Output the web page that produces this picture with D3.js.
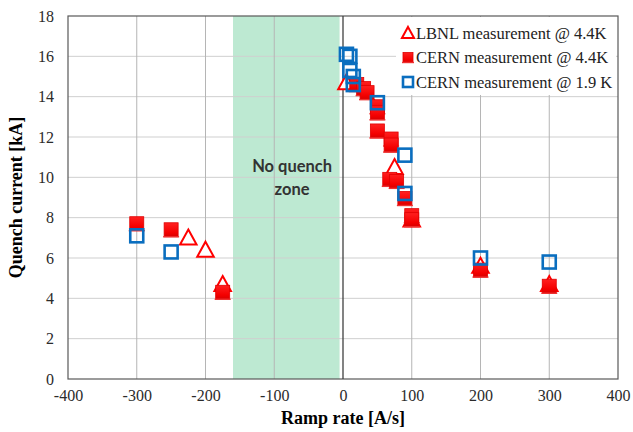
<!DOCTYPE html>
<html>
<head>
<meta charset="utf-8">
<script src="https://cdn.jsdelivr.net/npm/d3@7/dist/d3.min.js"></script>
<style>
  html, body { margin: 0; padding: 0; background: #fff; }
  svg { display: block; }
  .serif { font-family: "Liberation Serif", "Times New Roman", serif; }
</style>
</head>
<body>
<svg id="chart" width="633" height="432"></svg>
<script>
// Quench current vs ramp rate, three measurement series
const lbnlRamp   = [-225, -200, -175, 5, 75, 100, 200, 300];
const lbnlQuench = [7.0, 6.4, 4.7, 14.7, 10.5, 7.9, 5.6, 4.7];

const cern44Ramp   = [-300, -250, -175, 20, 30, 35, 50, 50, 50, 70, 70, 68, 78, 90, 100, 100, 200, 300];
const cern44Quench = [7.7, 7.4, 4.3, 14.6, 14.4, 14.2, 13.5, 13.2, 12.3, 11.9, 11.6, 9.9, 9.8, 8.95, 8.1, 7.9, 5.4, 4.6];

const cern19Ramp   = [-300, -250, 5, 10, 10, 15, 15, 50, 90, 90, 200, 300];
const cern19Quench = [7.1, 6.3, 16.1, 16.0, 15.3, 15.0, 14.6, 13.7, 11.1, 9.2, 6.0, 5.8];

const xTicks = [-400, -300, -200, -100, 0, 100, 200, 300, 400];
const yTicks = [0, 2, 4, 6, 8, 10, 12, 14, 16, 18];

const noQuenchZone = [-160, -5];
const zoneLabel = ["No quench", "zone"];
const zoneLabelRamp = -74;
const zoneLabelQuench = [10.25, 9.1];

const legendLabels = ["LBNL measurement @ 4.4K", "CERN measurement @ 4.4K", "CERN measurement @ 1.9 K"];

const width = 633, height = 432;
const margin = { top: 16, right: 15, bottom: 53, left: 68 };
const innerW = width - margin.left - margin.right;
const innerH = height - margin.top - margin.bottom;

const svg = d3.select("#chart");
const defs = svg.append("defs");
const grad = defs.append("linearGradient").attr("id", "redFill")
  .attr("x1", 0).attr("y1", 0).attr("x2", 0).attr("y2", 1);
grad.append("stop").attr("offset", "0%").attr("stop-color", "#ff2020");
grad.append("stop").attr("offset", "70%").attr("stop-color", "#f40000");
grad.append("stop").attr("offset", "100%").attr("stop-color", "#d80000");

const x = d3.scaleLinear().domain([-400, 400]).range([0, innerW]);
const y = d3.scaleLinear().domain([0, 18]).range([innerH, 0]);

const g = svg.append("g").attr("transform", `translate(${margin.left},${margin.top})`);

// shaded zone
g.append("rect")
  .attr("x", x(noQuenchZone[0]))
  .attr("y", 0)
  .attr("width", x(noQuenchZone[1]) - x(noQuenchZone[0]))
  .attr("height", innerH)
  .attr("fill", "#bde9d2");

// gridlines
g.append("g").selectAll("line").data(yTicks.slice(1, -1)).join("line")
  .attr("x1", 0).attr("x2", innerW)
  .attr("y1", d => y(d)).attr("y2", d => y(d))
  .attr("stroke", "#cfcfcf").attr("stroke-width", 1);
g.append("g").selectAll("line").data(xTicks.slice(1, -1).filter(d => d !== 0)).join("line")
  .attr("y1", 0).attr("y2", innerH)
  .attr("x1", d => x(d)).attr("x2", d => x(d))
  .attr("stroke", "#b5b5b5").attr("stroke-width", 1);

// zone label
const zl = g.append("g")
  .style("font-family", "Lato, 'Open Sans', sans-serif")
  .style("font-weight", "bold").style("font-size", "16.5px").attr("fill", "#333")
  .attr("text-anchor", "middle");
zoneLabel.forEach((t, i) => {
  zl.append("text").attr("x", x(zoneLabelRamp)).attr("y", y(zoneLabelQuench[i])).text(t);
});

// plot frame and zero axis
g.append("rect").attr("x", 0).attr("y", 0).attr("width", innerW).attr("height", innerH)
  .attr("fill", "none").attr("stroke", "#595959").attr("stroke-width", 1.2);
g.append("line").attr("x1", x(0)).attr("x2", x(0)).attr("y1", 0).attr("y2", innerH)
  .attr("stroke", "#404040").attr("stroke-width", 1.3);

// tick labels
const fmt = d => String(d);
const xAxis = d3.axisBottom(x).tickValues(xTicks).tickFormat(fmt).tickSize(0).tickPadding(11);
const yAxis = d3.axisLeft(y).tickValues(yTicks).tickFormat(fmt).tickSize(0).tickPadding(14);
const gx = g.append("g").attr("transform", `translate(0,${innerH})`).call(xAxis);
const gy = g.append("g").call(yAxis);
[gx, gy].forEach(a => {
  a.attr("font-family", null).attr("font-size", null);
  a.select(".domain").remove();
  a.selectAll("text").attr("class", "serif")
    .style("font-size", "16px").attr("fill", "#2b2b2b");
});

svg.append("text").attr("class", "serif")
  .attr("x", margin.left + x(0)).attr("y", 424)
  .attr("text-anchor", "middle")
  .style("font-weight", "bold").style("font-size", "18px").attr("fill", "#000")
  .text("Ramp rate [A/s]");
svg.append("text").attr("class", "serif")
  .attr("transform", `translate(22,${margin.top + innerH / 2}) rotate(-90)`)
  .attr("text-anchor", "middle")
  .style("font-weight", "bold").style("font-size", "18px").attr("fill", "#000")
  .text("Quench current [kA]");

// marker helpers
const triPath = s => `M0,${-s * 0.55}L${s * 0.55},${s * 0.45}L${-s * 0.55},${s * 0.45}Z`;
function drawTriangle(sel, s) {
  sel.append("path").attr("d", triPath(s)).attr("fill", "#fff")
    .attr("stroke", "#ff0000").attr("stroke-width", 2).attr("stroke-linejoin", "miter");
}
function drawRed(sel, s) {
  sel.append("rect").attr("x", -s / 2).attr("y", -s / 2).attr("width", s).attr("height", s)
    .attr("fill", "url(#redFill)").attr("stroke", "#e00000").attr("stroke-width", 0.8);
  sel.append("line").attr("x1", -s / 2 - 1).attr("x2", s / 2 + 1)
    .attr("y1", s / 2).attr("y2", s / 2).attr("stroke", "#ee3030").attr("stroke-width", 1.4);
}
function drawBlue(sel, s) {
  sel.append("rect").attr("x", -s / 2).attr("y", -s / 2).attr("width", s).attr("height", s)
    .attr("fill", "none").attr("stroke", "#0a6ebf").attr("stroke-width", 2.6);
}

const plot = g.append("g");
const lbnl = lbnlRamp.map((r, i) => [r, lbnlQuench[i]]);
const c44 = cern44Ramp.map((r, i) => [r, cern44Quench[i]]);
const c19 = cern19Ramp.map((r, i) => [r, cern19Quench[i]]);

plot.append("g").selectAll("g").data(lbnl).join("g")
  .attr("transform", d => `translate(${x(d[0])},${y(d[1])})`)
  .each(function () { drawTriangle(d3.select(this), 15); });
plot.append("g").selectAll("g").data(c44).join("g")
  .attr("transform", d => `translate(${x(d[0])},${y(d[1])})`)
  .each(function () { drawRed(d3.select(this), 14); });
plot.append("g").selectAll("g").data(c19).join("g")
  .attr("transform", d => `translate(${x(d[0])},${y(d[1])})`)
  .each(function () { drawBlue(d3.select(this), 13); });

// legend
const lg = g.append("g").attr("transform", `translate(${innerW - 222},1)`);
lg.append("rect").attr("x", 0).attr("y", 0).attr("width", 220).attr("height", 78).attr("fill", "#fff");
const drawers = [drawTriangle, drawRed, drawBlue];
const sizes = [11, 10, 10];
legendLabels.forEach((t, i) => {
  const row = lg.append("g").attr("transform", `translate(12,${16 + i * 24.5})`);
  drawers[i](row, sizes[i]);
  row.append("text").attr("class", "serif").attr("x", 8).attr("y", 5.5)
    .style("font-size", "16.5px").attr("fill", "#222").text(t);
});
</script>
</body>
</html>
